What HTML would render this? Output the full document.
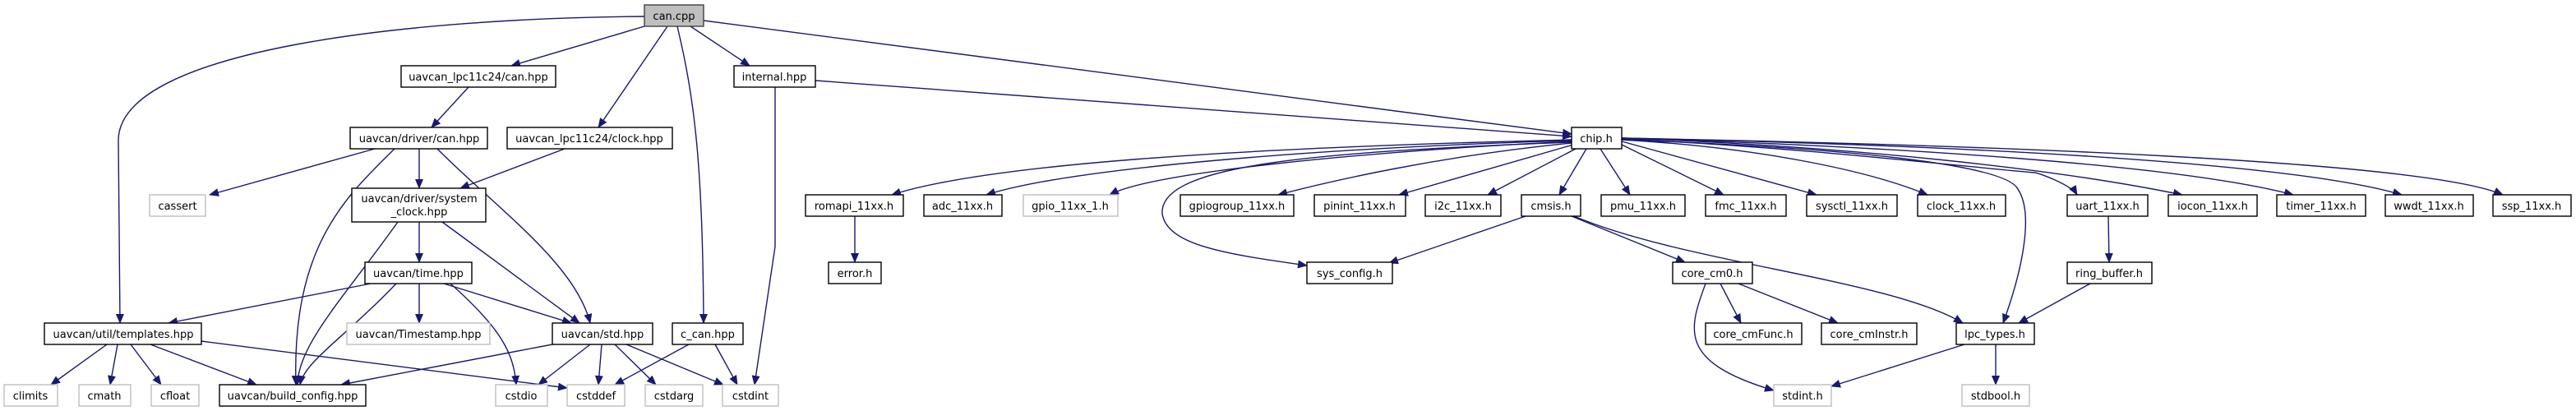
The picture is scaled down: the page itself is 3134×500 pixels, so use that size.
<!DOCTYPE html>
<html><head><meta charset="utf-8"><style>html,body{margin:0;padding:0;background:#fff}svg{display:block}</style></head><body>
<svg width="3134" height="500" viewBox="0 0 3134 500" xmlns="http://www.w3.org/2000/svg" font-family="DejaVu Sans, Liberation Sans, sans-serif" font-size="13">
<defs><marker id="a" markerUnits="userSpaceOnUse" markerWidth="12" markerHeight="10" refX="11" refY="5" orient="auto"><path d="M0,0 L12,5 L0,10 z" fill="#191970"/></marker></defs>
<g fill="none" stroke="#191970" stroke-width="1.4" marker-end="url(#a)">
<path d="M784,20 C500,22 146,60 144,170 L146,393"/>
<path d="M784,32 L622,80"/>
<path d="M812,32 L728,155"/>
<path d="M824,32 C845,120 855,200 856,393"/>
<path d="M840,32 L912,80"/>
<path d="M856,25 L1912,163"/>
<path d="M992,98 L1912,166"/>
<path d="M943,106 L943,300 L918,468"/>
<path d="M570,106 L525,155"/>
<path d="M456,181 L255,237"/>
<path d="M510,181 L510,229"/>
<path d="M480,181 C420,240 355,300 360,468"/>
<path d="M532,181 C600,250 700,320 718,393"/>
<path d="M687,181 L560,229"/>
<path d="M510,270 L510,319"/>
<path d="M484,270 C420,360 362,420 362,468"/>
<path d="M538,270 L705,393"/>
<path d="M451,345 L205,393"/>
<path d="M482,345 C420,410 370,440 365,468"/>
<path d="M510,345 L510,393"/>
<path d="M548,345 C610,400 625,430 628,468"/>
<path d="M540,345 L695,393"/>
<path d="M130,419 L62,468"/>
<path d="M143,419 L134,468"/>
<path d="M159,419 L196,468"/>
<path d="M183,419 L312,468"/>
<path d="M245,415 L690,472"/>
<path d="M672,419 L415,468"/>
<path d="M718,419 L655,468"/>
<path d="M732,419 L728,468"/>
<path d="M748,419 L798,468"/>
<path d="M762,419 L880,468"/>
<path d="M838,419 L748,468"/>
<path d="M870,419 L897,468"/>
<path d="M1040,263 L1040,319"/>
<path d="M1912,170 C1500,180 1200,200 1085,237"/>
<path d="M1912,171 C1600,180 1300,205 1200,237"/>
<path d="M1912,172 C1650,185 1400,210 1350,237"/>
<path d="M1912,173 C1600,185 1410,200 1414,260 C1420,300 1500,310 1590,323"/>
<path d="M1912,174 C1750,190 1620,220 1555,237"/>
<path d="M1914,176 L1702,237"/>
<path d="M1917,181 L1810,237"/>
<path d="M1930,181 L1897,237"/>
<path d="M1947,181 L1983,237"/>
<path d="M1973,176 L2097,237"/>
<path d="M1973,172 L2210,237"/>
<path d="M1973,170 C2150,180 2280,210 2345,237"/>
<path d="M1973,169 C2200,180 2360,200 2475,210 C2480,210 2520,225 2527,237"/>
<path d="M1973,168 C2250,178 2500,205 2655,237"/>
<path d="M1973,168 C2300,178 2650,200 2790,237"/>
<path d="M1973,168 C2350,176 2780,195 2922,237"/>
<path d="M1973,168 C2400,176 2950,195 3045,237"/>
<path d="M1973,170 C2250,180 2440,200 2455,230 C2475,260 2460,330 2437,393"/>
<path d="M1856,263 L1690,320"/>
<path d="M1912,263 L2050,319"/>
<path d="M1915,263 C2050,320 2300,340 2388,393"/>
<path d="M2093,345 L2118,393"/>
<path d="M2115,345 L2236,393"/>
<path d="M2075,345 C2055,400 2040,440 2158,475"/>
<path d="M2565,263 L2566,319"/>
<path d="M2543,345 L2456,393"/>
<path d="M2390,419 L2228,470"/>
<path d="M2428,419 L2428,468"/>
</g>
<g stroke-width="1.4" fill="#fff">
<rect x="784" y="6" width="72" height="26" fill="#bfbfbf" stroke="#404040"/>
<rect x="488" y="80" width="188" height="26" stroke="#000"/>
<rect x="893" y="80" width="99" height="26" stroke="#000"/>
<rect x="426" y="155" width="167" height="26" stroke="#000"/>
<rect x="617" y="155" width="201" height="26" stroke="#000"/>
<rect x="182" y="237" width="68" height="26" stroke="#bfbfbf"/>
<rect x="428" y="229" width="163" height="41" stroke="#000"/>
<rect x="444" y="319" width="130" height="26" stroke="#000"/>
<rect x="54" y="393" width="191" height="26" stroke="#000"/>
<rect x="422" y="393" width="174" height="26" stroke="#bfbfbf"/>
<rect x="672" y="393" width="122" height="26" stroke="#000"/>
<rect x="818" y="393" width="86" height="26" stroke="#000"/>
<rect x="5" y="468" width="65" height="26" stroke="#bfbfbf"/>
<rect x="96" y="468" width="63" height="26" stroke="#bfbfbf"/>
<rect x="184" y="468" width="58" height="26" stroke="#bfbfbf"/>
<rect x="267" y="468" width="178" height="26" stroke="#000"/>
<rect x="603" y="468" width="63" height="26" stroke="#bfbfbf"/>
<rect x="690" y="468" width="70" height="26" stroke="#bfbfbf"/>
<rect x="785" y="468" width="70" height="26" stroke="#bfbfbf"/>
<rect x="879" y="468" width="68" height="26" stroke="#bfbfbf"/>
<rect x="1912" y="155" width="61" height="26" stroke="#000"/>
<rect x="980" y="237" width="119" height="26" stroke="#000"/>
<rect x="1008" y="319" width="64" height="26" stroke="#000"/>
<rect x="1124" y="237" width="95" height="26" stroke="#000"/>
<rect x="1245" y="237" width="115" height="26" stroke="#bfbfbf"/>
<rect x="1436" y="237" width="138" height="26" stroke="#000"/>
<rect x="1599" y="237" width="111" height="26" stroke="#000"/>
<rect x="1734" y="237" width="92" height="26" stroke="#000"/>
<rect x="1851" y="237" width="72" height="26" stroke="#000"/>
<rect x="1948" y="237" width="102" height="26" stroke="#000"/>
<rect x="2075" y="237" width="98" height="26" stroke="#000"/>
<rect x="2198" y="237" width="110" height="26" stroke="#000"/>
<rect x="2333" y="237" width="107" height="26" stroke="#000"/>
<rect x="2515" y="237" width="98" height="26" stroke="#000"/>
<rect x="2638" y="237" width="108" height="26" stroke="#000"/>
<rect x="2770" y="237" width="108" height="26" stroke="#000"/>
<rect x="2902" y="237" width="107" height="26" stroke="#000"/>
<rect x="3033" y="237" width="95" height="26" stroke="#000"/>
<rect x="1590" y="319" width="104" height="26" stroke="#000"/>
<rect x="2035" y="319" width="97" height="26" stroke="#000"/>
<rect x="2515" y="319" width="103" height="26" stroke="#000"/>
<rect x="2075" y="393" width="117" height="26" stroke="#000"/>
<rect x="2216" y="393" width="116" height="26" stroke="#000"/>
<rect x="2380" y="393" width="95" height="26" stroke="#000"/>
<rect x="2158" y="468" width="70" height="26" stroke="#bfbfbf"/>
<rect x="2387" y="468" width="82" height="26" stroke="#bfbfbf"/>
</g>
<g fill="#000" text-anchor="middle">
<text x="820" y="24">can.cpp</text>
<text x="582" y="98">uavcan_lpc11c24/can.hpp</text>
<text x="942" y="98">internal.hpp</text>
<text x="510" y="173">uavcan/driver/can.hpp</text>
<text x="717" y="173">uavcan_lpc11c24/clock.hpp</text>
<text x="216" y="255">cassert</text>
<text x="510" y="246">uavcan/driver/system</text>
<text x="510" y="262">_clock.hpp</text>
<text x="509" y="337">uavcan/time.hpp</text>
<text x="150" y="411">uavcan/util/templates.hpp</text>
<text x="509" y="411">uavcan/Timestamp.hpp</text>
<text x="733" y="411">uavcan/std.hpp</text>
<text x="861" y="411">c_can.hpp</text>
<text x="37" y="486">climits</text>
<text x="127" y="486">cmath</text>
<text x="213" y="486">cfloat</text>
<text x="356" y="486">uavcan/build_config.hpp</text>
<text x="634" y="486">cstdio</text>
<text x="725" y="486">cstddef</text>
<text x="820" y="486">cstdarg</text>
<text x="913" y="486">cstdint</text>
<text x="1942" y="173">chip.h</text>
<text x="1039" y="255">romapi_11xx.h</text>
<text x="1040" y="337">error.h</text>
<text x="1171" y="255">adc_11xx.h</text>
<text x="1302" y="255">gpio_11xx_1.h</text>
<text x="1505" y="255">gpiogroup_11xx.h</text>
<text x="1654" y="255">pinint_11xx.h</text>
<text x="1780" y="255">i2c_11xx.h</text>
<text x="1887" y="255">cmsis.h</text>
<text x="1999" y="255">pmu_11xx.h</text>
<text x="2124" y="255">fmc_11xx.h</text>
<text x="2253" y="255">sysctl_11xx.h</text>
<text x="2386" y="255">clock_11xx.h</text>
<text x="2564" y="255">uart_11xx.h</text>
<text x="2692" y="255">iocon_11xx.h</text>
<text x="2824" y="255">timer_11xx.h</text>
<text x="2955" y="255">wwdt_11xx.h</text>
<text x="3080" y="255">ssp_11xx.h</text>
<text x="1642" y="337">sys_config.h</text>
<text x="2083" y="337">core_cm0.h</text>
<text x="2566" y="337">ring_buffer.h</text>
<text x="2133" y="411">core_cmFunc.h</text>
<text x="2274" y="411">core_cmInstr.h</text>
<text x="2427" y="411">lpc_types.h</text>
<text x="2193" y="486">stdint.h</text>
<text x="2428" y="486">stdbool.h</text>
</g>
</svg>
</body></html>
